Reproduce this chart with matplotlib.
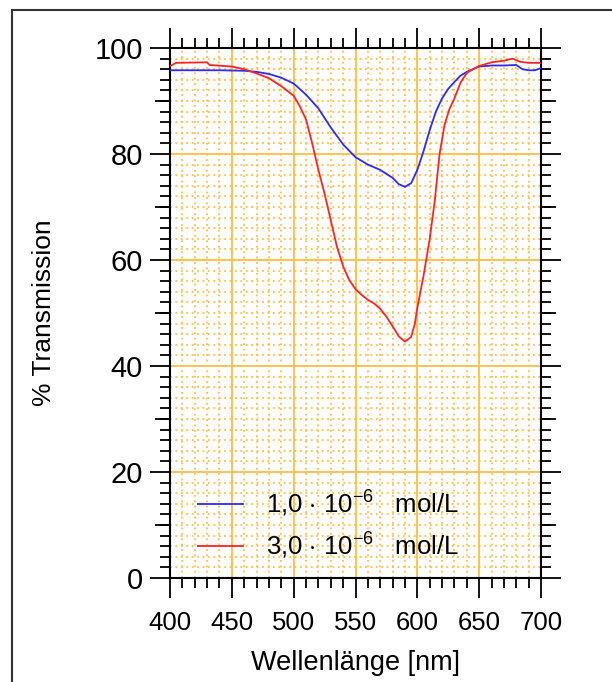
import numpy as np
import matplotlib
matplotlib.use('Agg')
import matplotlib.pyplot as plt
from matplotlib.lines import Line2D
from matplotlib.ticker import MultipleLocator

plt.rcParams['font.family'] = ['Liberation Sans', 'DejaVu Sans']
plt.rcParams['mathtext.fontset'] = 'custom'
plt.rcParams['mathtext.rm'] = 'Liberation Sans'
plt.rcParams['mathtext.it'] = 'Liberation Sans:italic'

wl_blau = [400, 420, 440, 460, 470, 480, 490, 500, 510, 520, 530, 540, 550, 560, 570,
           580, 585, 590, 595, 600, 605, 610, 615, 620, 625, 630, 635, 640, 650, 660,
           670, 680, 685, 690, 695, 700]
tr_blau = [95.8, 95.8, 95.8, 95.7, 95.5, 95.1, 94.4, 93.3, 91.2, 88.6, 85.0, 81.8, 79.4,
           78.0, 77.0, 75.5, 74.3, 73.8, 74.5, 77.0, 80.5, 84.5, 88.0, 90.5, 92.3, 93.6,
           94.8, 95.5, 96.5, 96.7, 96.7, 96.8, 96.0, 95.8, 95.8, 96.2]

wl_rot = [400, 405, 430, 432, 450, 460, 470, 480, 490, 500, 505, 510, 515, 520, 525, 530,
          535, 540, 545, 550, 555, 560, 565, 570, 575, 580, 585, 590, 595, 598, 600, 605,
          610, 614, 618, 622, 626, 630, 635, 640, 645, 650, 660, 670, 677, 683, 690, 700]
tr_rot = [96.6, 97.2, 97.3, 96.8, 96.5, 96.0, 95.2, 94.3, 92.8, 91.0, 89.0, 86.5, 82.0,
          77.0, 72.5, 67.5, 62.5, 58.8, 56.2, 54.5, 53.4, 52.5, 51.8, 50.8, 49.3, 47.5,
          45.6, 44.6, 45.5, 48.0, 51.0, 57.0, 64.0, 71.0, 80.0, 85.5, 88.5, 90.5, 93.5,
          95.3, 96.0, 96.6, 97.3, 97.6, 98.0, 97.4, 97.2, 97.2]

lbl_blau = r'1,0 $\cdot$ 10$^{-6}$   mol/L'
lbl_rot = r'3,0 $\cdot$ 10$^{-6}$   mol/L'

orange = '#FFC24F'

fig = plt.figure(figsize=(6.12, 6.82), dpi=100)
ax = fig.add_axes([170/612, 1-578/682, 371/612, 530/682])

ax.plot(wl_blau, tr_blau, color='#2B2BFF', lw=1.3, label=lbl_blau, zorder=3)
ax.plot(wl_rot, tr_rot, color='#FF2424', lw=1.3, label=lbl_rot, zorder=3)

ax.set_xlim(400, 700)
ax.set_ylim(0, 100)
ax.xaxis.set_major_locator(MultipleLocator(50))
ax.xaxis.set_minor_locator(MultipleLocator(10))
ax.yaxis.set_major_locator(MultipleLocator(20))
ax.yaxis.set_minor_locator(MultipleLocator(2))

ax.grid(which='major', color=orange, lw=1.4, ls='-', zorder=0)
ax.grid(which='minor', color='#FFBE45', lw=1.3, ls=(0, (1, 2)), zorder=0)
ax.set_axisbelow(True)

ax.tick_params(which='both', direction='out', top=True, right=True, color='black')
ax.tick_params(which='major', length=14.5, width=1.3)
ax.tick_params(axis='y', which='major', labelsize=21, pad=5)
ax.tick_params(axis='x', which='major', labelsize=18.5, pad=9)
ax.tick_params(which='minor', length=7, width=1.3)
for s in ax.spines.values():
    s.set_linewidth(1.5)

# mittlere Striche bei 10, 30, ...
for side in ['left', 'right']:
    sec = ax.secondary_yaxis(side)
    sec.set_yticks([10, 30, 50, 70, 90])
    sec.tick_params(length=11, width=1.3, labelleft=False, labelright=False)
    sec.spines[side].set_visible(False)

ax.set_xlabel('Wellenlänge [nm]', fontsize=19.5, labelpad=11)
ax.set_ylabel('% Transmission', fontsize=19, labelpad=28)

leg = ax.legend(loc='lower left', bbox_to_anchor=(0.075, 0.033), frameon=False, fontsize=18.5,
                handlelength=1.75, handletextpad=0.9, labelspacing=0.45,
                borderaxespad=0, borderpad=0)

# Rahmen
fig.add_artist(Line2D([12/612, 12/612], [0, 1-10/682], transform=fig.transFigure,
                      color='#333333', lw=1.5))
fig.add_artist(Line2D([12/612, 1], [1-10/682, 1-10/682], transform=fig.transFigure,
                      color='#333333', lw=1.5))

fig.savefig('out.png', dpi=100)
